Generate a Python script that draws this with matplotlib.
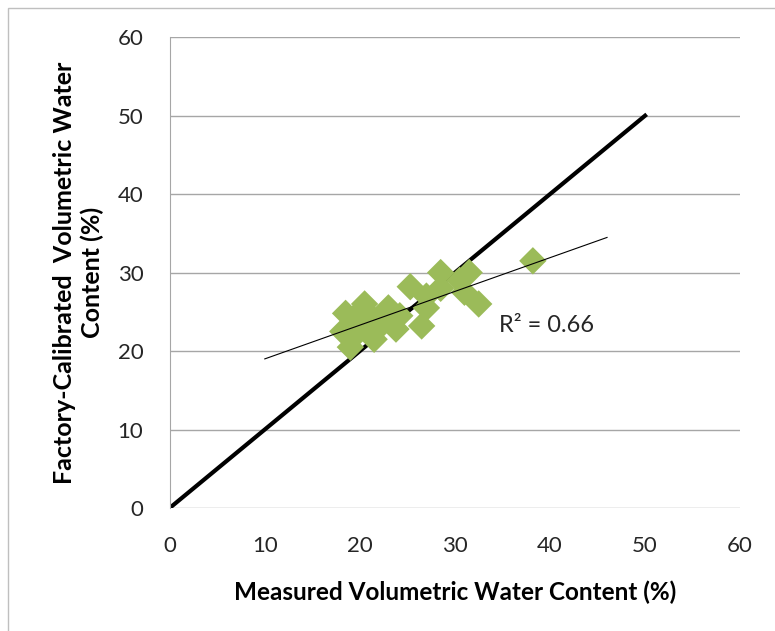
import matplotlib.pyplot as plt
from matplotlib.patches import Rectangle

# measured vs factory-calibrated volumetric water content (%)
measured = [38.2, 32.5, 31.5, 31.0, 30.5, 28.5, 28.5, 27.0, 27.0, 26.5,
            25.3, 24.2, 23.8, 23.0, 22.5, 21.5, 21.0, 20.5, 20.0, 19.5,
            19.0, 18.5, 18.2, 19.5, 21.5, 22.0]
factory = [31.5, 26.0, 30.0, 27.5, 29.0, 30.0, 28.0, 27.0, 25.5, 23.2,
           28.2, 24.5, 22.8, 25.5, 24.5, 21.5, 22.5, 26.0, 25.0, 23.5,
           20.5, 24.8, 22.5, 22.0, 24.0, 23.0]

one_to_one = [0, 50]
trend_x = [10, 46]
trend_slope = 0.43
trend_intercept = 14.7
r_squared = 0.66

plt.rcParams['font.family'] = ['Lato', 'DejaVu Sans']

fig = plt.figure(figsize=(7.75, 6.31), dpi=100)
ax = fig.add_axes([0.219, 0.195, 0.736, 0.746])

ax.plot(one_to_one, one_to_one, color='black', linewidth=3, zorder=2)
ax.scatter(measured, factory, marker='D', s=195, color='#9BBB59',
           edgecolors='none', zorder=3)
ax.plot(trend_x, [trend_slope * x + trend_intercept for x in trend_x],
        color='black', linewidth=0.8, zorder=4)
ax.text(34.6, 23.3, 'R² = {:.2f}'.format(r_squared), fontsize=17,
        va='center', ha='left', color='#262626')

ax.set_xlim(0, 60)
ax.set_ylim(0, 60)
ax.set_xticks(range(0, 61, 10))
ax.set_yticks(range(0, 61, 10))
ax.yaxis.grid(True, color='#A6A6A6', linewidth=1)
ax.set_axisbelow(True)
for side in ['top', 'right', 'bottom']:
    ax.spines[side].set_visible(False)
ax.spines['left'].set_color('#A6A6A6')
ax.tick_params(length=0, labelsize=16, colors='#262626')
ax.tick_params(axis='x', pad=20)
ax.tick_params(axis='y', pad=19)

ax.set_xlabel('Measured Volumetric Water Content (%)', fontsize=17.5,
              fontweight='bold', labelpad=18)
ax.set_ylabel('Factory-Calibrated  Volumetric Water\nContent (%)',
              fontsize=18, fontweight='bold', labelpad=10)

fig.patches.append(Rectangle((8 / 775, -0.1), 1.2, 1 - 8 / 631 + 0.1,
                             transform=fig.transFigure, fill=False,
                             edgecolor='#BFBFBF', linewidth=1))

fig.savefig('out.png')
